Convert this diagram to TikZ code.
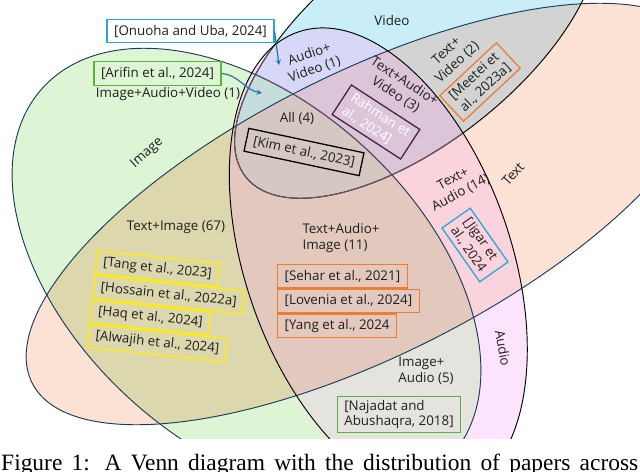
\documentclass[tikz,border=0pt]{standalone}
\usepackage{fontspec}
\setmainfont{Liberation Serif}
\newfontfamily\vennfont{Open Sans}
\usetikzlibrary{positioning, arrows.meta}

% region colours
\definecolor{cI}{HTML}{DDF5D5}
\definecolor{cT}{HTML}{FBE2D4}
\definecolor{cV}{HTML}{C9EDF9}
\definecolor{cA}{HTML}{FCE5FC}
\definecolor{cIT}{HTML}{DDD7AE}
\definecolor{cIA}{HTML}{E4E3DE}
\definecolor{cIV}{HTML}{C6E4DA}
\definecolor{cTA}{HTML}{FAD3DC}
\definecolor{cTV}{HTML}{D3D3D3}
\definecolor{cAV}{HTML}{D7D8F7}
\definecolor{cITA}{HTML}{E3C8BD}
\definecolor{cITV}{HTML}{CFCDC0}
\definecolor{cIAV}{HTML}{C6DDDD}
\definecolor{cTAV}{HTML}{DCC5D9}
\definecolor{cAll}{HTML}{D5C8C2}
% line and box colours
\definecolor{navyline}{HTML}{1D3A5A}
\definecolor{fadeline}{HTML}{6E5468}
\definecolor{refblue}{HTML}{2AA5DD}
\definecolor{refgreen}{HTML}{5DB043}
\definecolor{refyellow}{HTML}{FFEE00}
\definecolor{reforange}{HTML}{ED7D31}
\definecolor{refpurple}{HTML}{4B1E47}
\definecolor{arrowblue}{HTML}{2577A3}

\tikzset{
    img/.style={rotate around={-42.1:(246.5,-272.5)}},
    txt/.style={rotate around={26.7:(368,-214)}},
    vid/.style={rotate around={38.2:(416.6,-42.2)}},
    aud/.style={rotate around={19.3:(378.3,-262.1)}},
    darkline/.style={draw=navyline, line width=0.8pt},
    setline/.style={draw=black, line width=0.8pt},
    softline/.style={draw=fadeline, line width=0.9pt},
    lbl/.style={
        font={\vennfont\fontsize{11.4}{13.6}\selectfont},
        text=black!88,
        align=center,
        inner sep=1pt
    },
    refbox/.style={
        draw,
        line width=1.1pt,
        font={\vennfont\fontsize{11.4}{13.6}\selectfont},
        text=black!88,
        align=left,
        inner xsep=6pt,
        inner ysep=1.5pt,
        minimum height=0.7cm
    },
    tallbox/.style={refbox, inner ysep=3pt},
    refarrow/.style={-stealth, line width=1pt, draw=arrowblue}
}
\newcommand{\pImg}{(246.5,-272.5) ellipse [x radius=275, y radius=172]}
\newcommand{\pTxt}{(368,-214) ellipse [x radius=376, y radius=141]}
\newcommand{\pVid}{(416.6,-42.2) ellipse [x radius=217.6, y radius=100.5]}
\newcommand{\pAud}{(378.3,-262.1) ellipse [x radius=132.8, y radius=243.7]}

\begin{document}
\begin{tikzpicture}[x=0.03cm, y=0.03cm]
    \useasboundingbox (0,0) rectangle (640,-471);

    % Sets
    \begin{scope}
        \clip (0,0) rectangle (640,-438);
        \fill[txt, cT] \pTxt;
        \fill[vid, cV] \pVid;
        \fill[aud, cA] \pAud;
        % overlaps without Image
        \begin{scope}
            \clip[txt] \pTxt;
            \fill[aud, cTA] \pAud;
            \fill[vid, cTV] \pVid;
        \end{scope}
        \begin{scope}
            \clip[aud] \pAud;
            \fill[vid, cAV] \pVid;
            \clip[txt] \pTxt;
            \fill[vid, cTAV] \pVid;
        \end{scope}
        % overlaps with Image
        \begin{scope}
            \clip[img] \pImg;
            \fill[img, cI] \pImg;
            \fill[txt, cIT] \pTxt;
            \fill[aud, cIA] \pAud;
            \fill[vid, cIV] \pVid;
            \begin{scope}
                \clip[txt] \pTxt;
                \fill[vid, cITV] \pVid;
            \end{scope}
            \begin{scope}
                \clip[aud] \pAud;
                \fill[vid, cIAV] \pVid;
                \clip[txt] \pTxt;
                \fill[aud, cITA] \pAud;
                \fill[vid, cAll] \pVid;
            \end{scope}
        \end{scope}

        % Outlines
        \draw[img, darkline] \pImg;
        \draw[txt, darkline] \pTxt;
        \draw[vid, setline] \pVid;
        \begin{scope}
            \clip[aud] \pAud;
            \draw[vid, softline] \pVid;
            \clip[vid] \pVid;
            \draw[img, softline] \pImg;
        \end{scope}
        \draw[aud, setline] \pAud;
    \end{scope}

    % Set names and counts
    \node[lbl] (vidlbl) at (392,-20) {Video};
    \node[lbl] (iavlbl) at (168,-94) {Image+Audio+Video (1)};
    \node[lbl, rotate=42] (imglbl) at (147,-153) {Image};
    \node[lbl] (itlbl) at (176,-227) {Text+Image (67)};
    \node[lbl, rotate=19] (avlbl) at (312,-62) {Audio+\\Video (1)};
    \node[lbl] (alllbl) at (297,-118) {All (4)};
    \node[lbl, rotate=-33] (tavlbl) at (400,-88) {Text+Audio+\\Video (3)};
    \node[lbl, rotate=43] (tvlbl) at (452,-57) {Text+\\Video (2)};
    \node[lbl, rotate=48] (txtlbl) at (513,-174) {Text};
    \node[lbl, rotate=28] (talbl) at (457,-186) {Text+\\Audio (14)};
    \node[lbl, rotate=-80] (audlbl) at (503,-348) {Audio};
    \node[lbl, align=left] (italbl) at (341,-238) {Text+Audio+\\Image (11)};
    \node[lbl, align=left] (ialbl) at (426,-371) {Image+\\Audio (5)};

    % References
    \node[refbox, draw=refblue] (onuoha) at (190.5,-31) {[Onuoha and Uba, 2024]};
    \node[refbox, draw=refgreen] (arifin) at (157.5,-73.5) {[Arifin et al., 2024]};
    \node[refbox, draw=black, rotate=-12] (kim) at (304,-152) {[Kim et al., 2023]};
    \node[tallbox, draw=refpurple, text=white, rotate=-33] (rahman) at (376,-122) {Rahman et\\al., 2024]};
    \node[tallbox, draw=reforange, rotate=43] (meetei) at (480,-82) {[Meetei et\\al., 2023a]};
    \node[tallbox, draw=refblue, rotate=-55] (jigar) at (475,-245) {[Jigar et\\al., 2024};
    \node[tallbox, draw=refgreen] (najadat) at (399,-414.5) {[Najadat and\\Abushaqra, 2018]};

    \node[refbox, draw=refyellow, rotate=-6, anchor=north west] (tang) at (97,-250) {[Tang et al., 2023]};
    \node[refbox, draw=refyellow, rotate=-6, anchor=north west] (hossain) at (tang.south west) {[Hossain et al., 2022a]};
    \node[refbox, draw=refyellow, rotate=-6, anchor=north west] (haq) at (hossain.south west) {[Haq et al., 2024]};
    \node[refbox, draw=refyellow, rotate=-6, anchor=north west] (alwajih) at (haq.south west) {[Alwajih et al., 2024]};

    \node[refbox, draw=reforange, anchor=north west] (sehar) at (277,-264) {[Sehar et al., 2021]};
    \node[refbox, draw=reforange, anchor=north west] (lovenia) at (sehar.south west) {[Lovenia et al., 2024]};
    \node[refbox, draw=reforange, anchor=north west] (yang) at (lovenia.south west) {[Yang et al., 2024};

    % Pointers
    \coordinate (avpt) at (279,-65);
    \coordinate (iavpt) at (262,-93);
    \draw[refarrow] (onuoha.east) -- (avpt);
    \draw[refarrow] (arifin.east) to[out=-5, in=170] (iavpt);

    % Caption (cut by the page edge)
    \node[anchor=base west, inner sep=0pt, font=\fontsize{20}{24}\selectfont] (caption) at (1,-470)
        {\makebox[19.11cm][s]{Figure 1: A Venn diagram with the distribution of papers across}};
\end{tikzpicture}
\end{document}
